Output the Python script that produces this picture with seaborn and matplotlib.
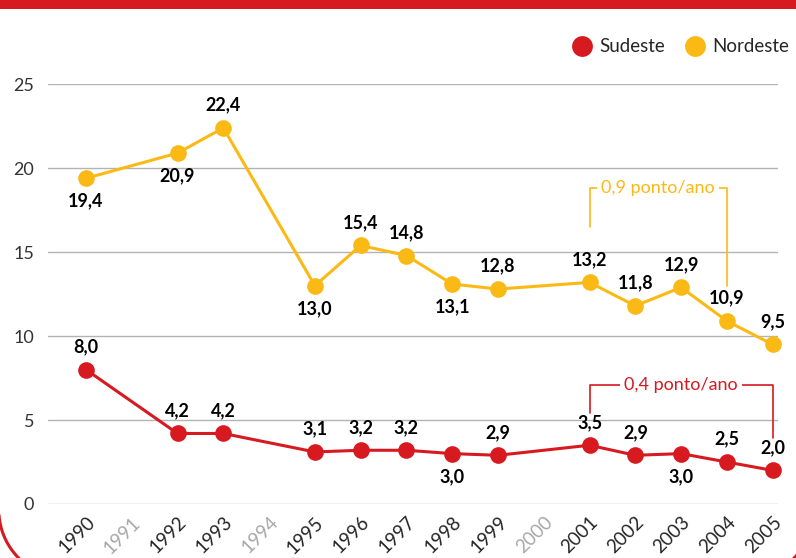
import matplotlib
matplotlib.use("Agg")
import matplotlib.pyplot as plt
from matplotlib.lines import Line2D
from matplotlib.patches import Rectangle
import numpy as np
import pandas as pd
import seaborn as sns

RED = "#d71920"
YELLOW = "#fbb915"

anos = [1990, 1992, 1993, 1995, 1996, 1997, 1998, 1999, 2001, 2002, 2003, 2004, 2005]
nordeste = [19.4, 20.9, 22.4, 13.0, 15.4, 14.8, 13.1, 12.8, 13.2, 11.8, 12.9, 10.9, 9.5]
sudeste = [8.0, 4.2, 4.2, 3.1, 3.2, 3.2, 3.0, 2.9, 3.5, 2.9, 3.0, 2.5, 2.0]

# +1 = rótulo acima do ponto, -1 = abaixo
pos_nordeste = [-1, -1, 1, -1, 1, 1, -1, 1, 1, 1, 1, 1, 1]
pos_sudeste = [1, 1, 1, 1, 1, 1, -1, 1, 1, 1, -1, 1, 1]

todos_anos = list(range(1990, 2006))
anos_sem_dado = [1991, 1994, 2000]

sns.set_style("white")
plt.rcParams["font.family"] = ["Lato", "DejaVu Sans"]

df = pd.concat([
    pd.DataFrame({"ano": anos, "valor": sudeste, "regiao": "Sudeste"}),
    pd.DataFrame({"ano": anos, "valor": nordeste, "regiao": "Nordeste"}),
])

W, H = 796, 558
fig, ax = plt.subplots(figsize=(W / 100, H / 100), dpi=100)
fig.subplots_adjust(left=0.0603, right=0.977, bottom=0.0968, top=0.849)

sns.lineplot(data=df, x="ano", y="valor", hue="regiao",
             palette={"Sudeste": RED, "Nordeste": YELLOW},
             marker="o", markersize=12, markeredgewidth=0,
             linewidth=2.2, legend=False, ax=ax, clip_on=False, zorder=3)

# rótulos dos valores
for serie, pos in [(nordeste, pos_nordeste), (sudeste, pos_sudeste)]:
    for x, v, p in zip(anos, serie, pos):
        ax.annotate(f"{v:.1f}".replace(".", ","), (x, v),
                    xytext=(0, 16.5 * p), textcoords="offset points",
                    ha="center", va="center", fontsize=13,
                    fontweight="bold", color="black", zorder=4)

# colchetes de variação
def colchete(x0, x1, y_top, y0, y1, texto, cor):
    ax.plot([x0, x0, x1, x1], [y0, y_top, y_top, y1], color=cor, lw=1.2,
            zorder=2, clip_on=False)
    ax.text((x0 + x1) / 2, y_top, texto, color=cor, fontsize=13,
            ha="center", va="center", zorder=3,
            bbox=dict(facecolor="white", edgecolor="none", pad=3))

colchete(2001, 2004, 18.8, 16.5, 13.0, "0,9 ponto/ano", YELLOW)
colchete(2001, 2005, 7.1, 5.4, 3.95, "0,4 ponto/ano", RED)

ax.set_xlim(1989.17, 2005.11)
ax.set_ylim(0, 25)
ax.set_yticks([0, 5, 10, 15, 20, 25])
ax.grid(axis="y", color="#b3b3b3", lw=1)
ax.set_axisbelow(True)
ax.set_xticks(todos_anos)
ax.set_xticklabels([str(a) for a in todos_anos], rotation=45,
                   ha="right", rotation_mode="anchor", fontsize=13.5)
for lbl, a in zip(ax.get_xticklabels(), todos_anos):
    if a in anos_sem_dado:
        lbl.set_color("#a8a8a8")
ax.tick_params(axis="x", length=0, pad=7)
ax.tick_params(axis="y", length=0, pad=10, labelsize=13, labelcolor="#333333")
ax.set_xlabel("")
ax.set_ylabel("")
sns.despine(ax=ax, left=True, bottom=True)

# legenda
handles = [
    Line2D([], [], marker="o", color="none", markerfacecolor=RED,
           markeredgewidth=0, markersize=15, label="Sudeste"),
    Line2D([], [], marker="o", color="none", markerfacecolor=YELLOW,
           markeredgewidth=0, markersize=15, label="Nordeste"),
]
fig.legend(handles=handles, loc="center right", bbox_to_anchor=(1.012, 0.916),
           ncol=2, frameon=False, fontsize=13.5, handletextpad=0.3,
           columnspacing=1.0, handlelength=1.2)

# moldura: borda lateral com canto inferior arredondado (em pixels)
def borda(x_borda, lado):
    r = 68
    yc = 510
    t = np.linspace(0, np.pi / 2, 40)
    xs = [x_borda, x_borda] + list(x_borda + lado * (r - r * np.cos(t)))
    ys = [0, yc] + list(yc + r * np.sin(t))
    fig.add_artist(Line2D(np.array(xs) / W, 1 - np.array(ys) / H,
                          transform=fig.transFigure, color=RED, lw=2.2))

borda(-1.2, 1)
borda(W + 18, -1)
fig.patches.append(Rectangle((0, 1 - 9 / H), 1, 9 / H,
                             transform=fig.transFigure,
                             facecolor=RED, edgecolor="none"))

fig.savefig("out.png", dpi=100)
